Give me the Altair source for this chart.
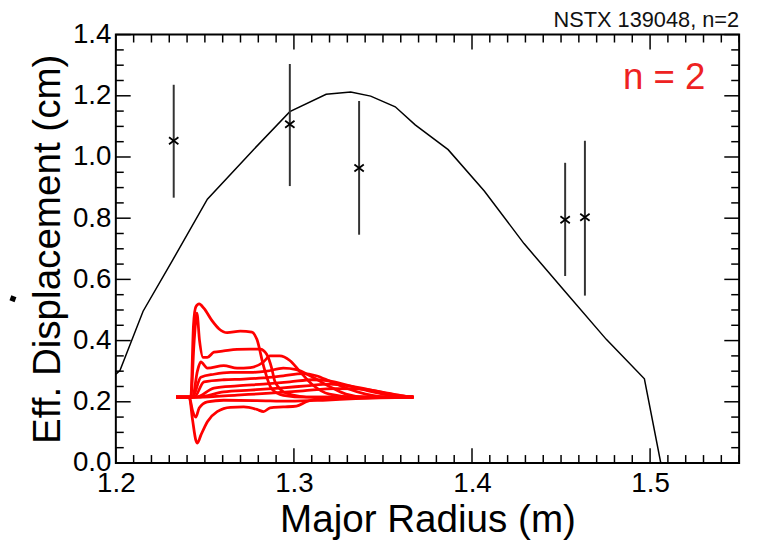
import altair as alt
import pandas as pd

# ---- measured points with error bars ----
pt_x = [1.2325, 1.2977, 1.3366, 1.4523, 1.4634]
pt_y = [1.053, 1.107, 0.964, 0.795, 0.803]
pt_lo = [0.867, 0.905, 0.746, 0.611, 0.547]
pt_hi = [1.236, 1.304, 1.183, 0.981, 1.053]

# ---- model curve (black) ----
model_x = [1.2000, 1.2023, 1.2153, 1.2319, 1.2514, 1.2773, 1.2977, 1.3181, 1.3319,
           1.3431, 1.3569, 1.3681, 1.3866, 1.4069, 1.4292, 1.4514, 1.4754, 1.4968,
           1.5060, 1.5500]
model_y = [0.290, 0.302, 0.496, 0.663, 0.862, 1.024, 1.148, 1.205, 1.212,
           1.199, 1.164, 1.105, 1.024, 0.889, 0.717, 0.566, 0.404, 0.275,
           0.000, 0.000]

# ---- red inset family of profiles ----
red_curves = {
    "c1": ([1.2338, 1.2421, 1.2436, 1.2449, 1.2468, 1.2495, 1.2540, 1.2580, 1.2625, 1.2699, 1.2764, 1.2792, 1.2829, 1.2875, 1.2940, 1.3069, 1.3671],
           [0.215, 0.215, 0.450, 0.510, 0.520, 0.505, 0.465, 0.438, 0.426, 0.431, 0.428, 0.404, 0.318, 0.242, 0.221, 0.215, 0.215]),
    "c2": ([1.2338, 1.2421, 1.2440, 1.2455, 1.2470, 1.2490, 1.2514, 1.2551, 1.2606, 1.2681, 1.2755, 1.2810, 1.2847, 1.2875, 1.2894, 1.2958, 1.3106, 1.3671],
           [0.215, 0.215, 0.400, 0.490, 0.400, 0.345, 0.345, 0.362, 0.366, 0.371, 0.372, 0.372, 0.355, 0.310, 0.265, 0.228, 0.215, 0.215]),
    "c3": ([1.2338, 1.2431, 1.2458, 1.2477, 1.2514, 1.2606, 1.2681, 1.2755, 1.2829, 1.2866, 1.2920, 1.2977, 1.3032, 1.3106, 1.3199, 1.3347, 1.3671],
           [0.215, 0.215, 0.300, 0.330, 0.310, 0.318, 0.310, 0.312, 0.330, 0.350, 0.350, 0.335, 0.300, 0.255, 0.225, 0.215, 0.215]),
    "c4": ([1.2338, 1.2431, 1.2477, 1.2551, 1.2644, 1.2755, 1.2847, 1.2940, 1.3014, 1.3106, 1.3199, 1.3292, 1.3403, 1.3671],
           [0.215, 0.215, 0.280, 0.290, 0.296, 0.296, 0.300, 0.310, 0.305, 0.280, 0.250, 0.225, 0.215, 0.215]),
    "c5": ([1.2338, 1.2440, 1.2495, 1.2606, 1.2718, 1.2829, 1.2940, 1.3051, 1.3125, 1.3199, 1.3292, 1.3403, 1.3532, 1.3671],
           [0.215, 0.215, 0.265, 0.272, 0.274, 0.278, 0.285, 0.292, 0.285, 0.268, 0.245, 0.225, 0.215, 0.215]),
    "c6": ([1.2338, 1.2449, 1.2551, 1.2681, 1.2829, 1.2977, 1.3106, 1.3199, 1.3292, 1.3403, 1.3532, 1.3671],
           [0.215, 0.215, 0.245, 0.252, 0.258, 0.265, 0.272, 0.268, 0.255, 0.238, 0.222, 0.215]),
    "c7": ([1.2338, 1.2458, 1.2606, 1.2755, 1.2922, 1.3069, 1.3199, 1.3310, 1.3421, 1.3532, 1.3671],
           [0.215, 0.215, 0.232, 0.238, 0.245, 0.252, 0.258, 0.252, 0.240, 0.226, 0.215]),
    "c8": ([1.2338, 1.2468, 1.2681, 1.2866, 1.3051, 1.3236, 1.3366, 1.3495, 1.3600, 1.3671],
           [0.215, 0.215, 0.222, 0.228, 0.236, 0.243, 0.242, 0.232, 0.220, 0.215]),
    "c9": ([1.2338, 1.2412, 1.2431, 1.2449, 1.2468, 1.2514, 1.2606, 1.2792, 1.2977, 1.3162, 1.3347, 1.3671],
           [0.215, 0.215, 0.170, 0.150, 0.180, 0.200, 0.205, 0.204, 0.202, 0.205, 0.210, 0.215]),
    "c10": ([1.2338, 1.2412, 1.2431, 1.2449, 1.2458, 1.2477, 1.2514, 1.2569, 1.2644, 1.2718, 1.2792, 1.2829, 1.2866, 1.2940, 1.3014, 1.3069, 1.3162, 1.3671],
            [0.215, 0.215, 0.140, 0.075, 0.065, 0.090, 0.135, 0.168, 0.182, 0.183, 0.175, 0.168, 0.180, 0.183, 0.186, 0.200, 0.212, 0.215]),
}

# ---- axis tick values ----
x_major = [1.2, 1.3, 1.4, 1.5]
x_minor = [round(1.20 + 0.01 * i, 2) for i in range(36) if i % 10 != 0]
y_major = [0.0, 0.2, 0.4, 0.6, 0.8, 1.0, 1.2, 1.4]
y_minor = [round(0.05 * i, 2) for i in range(29) if i % 4 != 0]

W, H = 630, 433
FONT = "Liberation Sans"

xs = alt.Scale(domain=[1.2, 1.55], nice=False, zero=False)
ys = alt.Scale(domain=[0, 1.4], nice=False, zero=False)

pts = pd.DataFrame({"x": pt_x, "y": pt_y, "lo": pt_lo, "hi": pt_hi})
model = pd.DataFrame({"x": model_x, "y": model_y})
rows = []
for k, (cx, cy) in red_curves.items():
    for i, (a, b) in enumerate(zip(cx, cy)):
        rows.append({"c": k, "i": i, "x": a, "y": b})
red = pd.DataFrame(rows)

xaxis = alt.Axis(values=x_major, format=".1f", ticks=False, domain=False, grid=False,
                 labelFontSize=28, labelFont=FONT, labelColor="black", labelPadding=7,
                 labelFlush=False,
                 title="Major Radius (m)", titleFont=FONT, titleFontSize=39,
                 titleFontWeight="normal", titleColor="black", titlePadding=3)
yaxis = alt.Axis(values=y_major, format=".1f", ticks=False, domain=False, grid=False,
                 labelFontSize=28, labelFont=FONT, labelColor="black", labelPadding=5,
                 labelFlush=False,
                 title="Eff. Displacement (cm)", titleFont=FONT, titleFontSize=39,
                 titleFontWeight="normal", titleColor="black", titlePadding=5)


def X(field):
    return alt.X(field, type="quantitative", scale=xs, axis=xaxis)


def Y(field):
    return alt.Y(field, type="quantitative", scale=ys, axis=yaxis)


line = alt.Chart(model).mark_line(color="black", strokeWidth=1.5).encode(
    x=X("x"), y=Y("y"),
)

redl = alt.Chart(red).mark_line(color="#ff0000", strokeWidth=2.8, interpolate="monotone").encode(
    x=X("x"), y=Y("y"), detail="c:N", order="i:Q",
)

err = alt.Chart(pts).mark_rule(color="#333333", strokeWidth=2).encode(
    x=X("x"), y=Y("lo"), y2="hi:Q",
)

xshape = "M -1 -0.75 L 1 0.75 M -1 0.75 L 1 -0.75"
marks = alt.Chart(pts).mark_point(shape=xshape, filled=False, color="black",
                                  strokeWidth=1.8, size=90, opacity=1).encode(
    x=X("x"), y=Y("y"),
)


def xticks(vals, length):
    d = pd.DataFrame({"v": vals})
    b = alt.Chart(d).mark_rule(color="black", strokeWidth=1.5).encode(
        x=X("v"), y=alt.value(H), y2=alt.value(H - length))
    t = alt.Chart(d).mark_rule(color="black", strokeWidth=1.5).encode(
        x=X("v"), y=alt.value(0), y2=alt.value(length))
    return [b, t]


def yticks(vals, length):
    d = pd.DataFrame({"v": vals})
    l = alt.Chart(d).mark_rule(color="black", strokeWidth=1.5).encode(
        y=Y("v"), x=alt.value(0), x2=alt.value(length))
    r = alt.Chart(d).mark_rule(color="black", strokeWidth=1.5).encode(
        y=Y("v"), x=alt.value(W), x2=alt.value(W - length))
    return [l, r]


ticks = xticks(x_major, 15) + xticks(x_minor, 8) + yticks(y_major, 15) + yticks(y_minor, 8)

ann = alt.Chart(pd.DataFrame({"t": ["n = 2"]})).mark_text(
    font=FONT, fontSize=37, color="#ee2222", align="right", baseline="alphabetic"
).encode(text="t:N", x=alt.value(596), y=alt.value(55))

hdr = alt.Chart(pd.DataFrame({"t": ["NSTX 139048, n=2"]})).mark_text(
    font=FONT, fontSize=22, color="#111111", align="right", baseline="alphabetic"
).encode(text="t:N", x=alt.value(630), y=alt.value(-8))

# small stray mark at the far left of the original figure
stray = alt.Chart(pd.DataFrame({"k": [0]})).mark_point(
    shape="square", filled=True, color="black", size=30, angle=20, opacity=1
).encode(x=alt.value(-104), y=alt.value(267))

chart = alt.layer(line, redl, err, marks, *ticks, ann, hdr, stray).properties(
    width=W, height=H,
    autosize=alt.AutoSizeParams(type="none"),
    padding={"left": 109, "top": 24, "right": 12, "bottom": 78},
).configure_view(stroke="black", strokeWidth=2)

chart.save("out.html", embed_options={"renderer": "svg", "actions": False})
